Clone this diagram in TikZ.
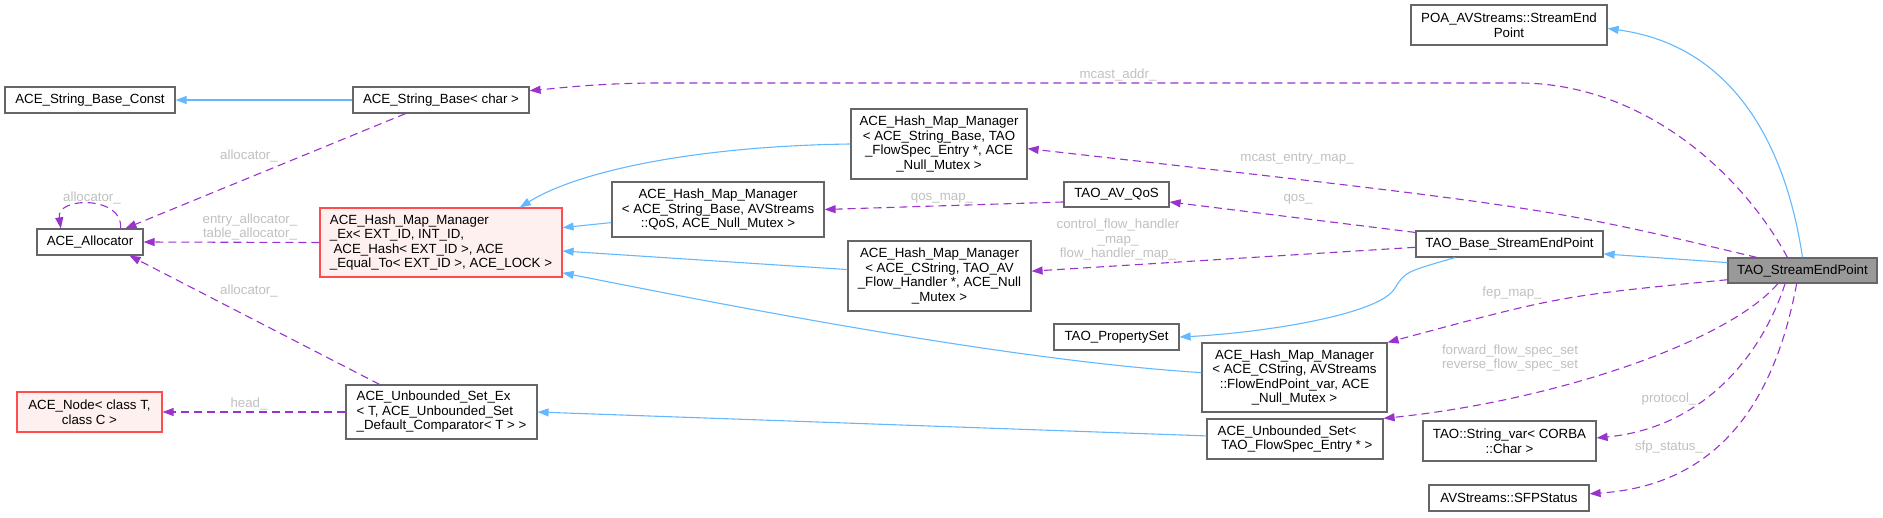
\documentclass[tikz,border=0pt]{standalone}
\usepackage{fontspec}
\setmainfont{Liberation Sans}
\usepackage{tikz}
\usetikzlibrary{arrows.meta}

\definecolor{inhblue}{HTML}{63B8FF}
\definecolor{usepurple}{HTML}{9A32CD}
\definecolor{boxgray}{HTML}{666666}
\definecolor{mainfill}{HTML}{999999}
\definecolor{lblgray}{HTML}{C0C0C0}
\definecolor{truncred}{HTML}{FF4D4D}
\definecolor{truncfill}{HTML}{FFF0F0}

\begin{document}
\begin{tikzpicture}[x=1pt,y=-1pt,>={Triangle[length=11pt,width=8pt]},
                    font=\fontsize{13.3}{14.5}\selectfont]
  \tikzstyle{cls}=[draw=boxgray,line width=1.2pt,fill=white,inner sep=0pt,align=center]
  \tikzstyle{trunc}=[cls,draw=truncred,fill=truncfill]
  \tikzstyle{main}=[cls,fill=mainfill]
  \tikzstyle{inh}=[->,draw=inhblue,line width=1.1pt]
  \tikzstyle{use}=[->,draw=usepurple,line width=1.1pt,dash pattern=on 8pt off 5pt]
  \tikzstyle{lbl}=[text=lblgray,align=center,inner sep=0pt]

  \useasboundingbox (0,0) rectangle (1883,517);

  \node[cls,minimum width=170pt,minimum height=26pt]  (strconst) at (90,100)   {ACE\_String\_Base\_Const};
  \node[cls,minimum width=176pt,minimum height=26pt]  (strbase)  at (441,100)  {ACE\_String\_Base< char >};
  \node[cls,minimum width=106pt,minimum height=26pt]  (alloc)    at (90,242)   {ACE\_Allocator};
  \node[trunc,align=left,minimum width=242pt,minimum height=69pt] (hmmex) at (441,242.5)
       {ACE\_Hash\_Map\_Manager\\\_Ex< EXT\_ID, INT\_ID,\\~ACE\_Hash< EXT\_ID >, ACE\\\_Equal\_To< EXT\_ID >, ACE\_LOCK >};
  \node[trunc,minimum width=145pt,minimum height=40pt] (nodecls) at (89.5,412) {ACE\_Node< class T,\\class C >};
  \node[cls,align=left,minimum width=191pt,minimum height=54pt] (setex) at (441.5,412)
       {ACE\_Unbounded\_Set\_Ex\\< T, ACE\_Unbounded\_Set\\\_Default\_Comparator< T > >};
  \node[cls,minimum width=176pt,minimum height=70pt]  (hmmfs)    at (939,144)
       {ACE\_Hash\_Map\_Manager\\< ACE\_String\_Base, TAO\\\_FlowSpec\_Entry *, ACE\\\_Null\_Mutex >};
  \node[cls,minimum width=212pt,minimum height=55pt]  (hmmqos)   at (718,209.5)
       {ACE\_Hash\_Map\_Manager\\< ACE\_String\_Base, AVStreams\\::QoS, ACE\_Null\_Mutex >};
  \node[cls,minimum width=105pt,minimum height=25pt]  (avqos)    at (1116.5,194.5) {TAO\_AV\_QoS};
  \node[cls,minimum width=183pt,minimum height=70pt]  (hmmfh)    at (939.5,276)
       {ACE\_Hash\_Map\_Manager\\< ACE\_CString, TAO\_AV\\\_Flow\_Handler *, ACE\_Null\\\_Mutex >};
  \node[cls,minimum width=125pt,minimum height=26pt]  (propset)  at (1116.5,337) {TAO\_PropertySet};
  \node[cls,minimum width=185pt,minimum height=69pt]  (hmmfep)   at (1294.5,377.5)
       {ACE\_Hash\_Map\_Manager\\< ACE\_CString, AVStreams\\::FlowEndPoint\_var, ACE\\\_Null\_Mutex >};
  \node[cls,align=left,minimum width=176pt,minimum height=40pt] (uset) at (1295,439)
       {ACE\_Unbounded\_Set<\\~TAO\_FlowSpec\_Entry * >};
  \node[cls,minimum width=196pt,minimum height=40pt]  (poa)      at (1509,25)  {POA\_AVStreams::StreamEnd\\Point};
  \node[cls,minimum width=187pt,minimum height=26pt]  (basesep)  at (1509.5,244) {TAO\_Base\_StreamEndPoint};
  \node[main,minimum width=149pt,minimum height=25pt] (sep)      at (1802.5,270.5) {TAO\_StreamEndPoint};
  \node[cls,minimum width=173pt,minimum height=40pt]  (strvar)   at (1509.5,441) {TAO::String\_var< CORBA\\::Char >};
  \node[cls,minimum width=160pt,minimum height=26pt]  (sfp)      at (1509,498) {AVStreams::SFPStatus};

  % base classes
  \draw[inh] (strbase) -- (strconst);
  \draw[inh] (hmmfs.west) .. controls (700,146) and (580,170) .. (hmmex.24);
  \draw[inh] (hmmqos.187) -- (hmmex.7);
  \draw[inh] (hmmfh.176) -- (hmmex.-4);
  \draw[inh] (hmmfep.177) .. controls (1000,360) and (700,300) .. (hmmex.-14);
  \draw[inh] (uset.178) -- (setex.east);
  \draw[inh] (basesep.194) .. controls (1405,272) .. (1395,288)
             .. controls (1380,315) and (1260,333) .. (propset.east);
  \draw[inh] (sep.174) -- (basesep.-6);
  \draw[inh] (sep.north) .. controls (1785,140) and (1730,45) .. (poa.-2);

  % members
  \draw[use] (strbase.201) -- (alloc.21) node[lbl] at (249,156) {allocator\_};
  \draw[use] (alloc.24) .. controls (124,196) and (56,196) .. (alloc.155)
             node[lbl] at (92,198) {allocator\_};
  \draw[use] (hmmex.west) -- (alloc.east)
             node[lbl] at (250,227) {entry\_allocator\_\\table\_allocator\_};
  \draw[use] (setex.156) -- (alloc.-19) node[lbl] at (249,291) {allocator\_};
  \draw[use] (setex.west) -- (nodecls.east) node[lbl] at (249,404) {head\_};
  \draw[use] (sep.139) .. controls (1740,170) and (1640,83) .. (1519,83) -- (660,83)
             .. controls (600,83) and (560,88) .. (strbase.6)
             node[lbl] at (1118,75) {mcast\_addr\_};
  \draw[use] (sep.164) .. controls (1545,207) .. (hmmfs.-3)
             node[lbl] at (1297,159) {mcast\_entry\_map\_};
  \draw[use] (basesep.173) -- (avqos.-8) node[lbl] at (1298,199) {qos\_};
  \draw[use] (avqos.188) -- (hmmqos.east) node[lbl] at (942,198) {qos\_map\_};
  \draw[use] (basesep.182) -- (hmmfh.3)
             node[lbl] at (1118,240) {control\_flow\_handler\\\_map\_\\flow\_handler\_map\_};
  \draw[use] (sep.187) .. controls (1560,296) .. (hmmfep.north east)
             node[lbl] at (1512,293) {fep\_map\_};
  \draw[use] (sep.208) .. controls (1730,340) and (1560,400) .. (uset.north east)
             node[lbl] at (1510,358) {forward\_flow\_spec\_set\\reverse\_flow\_spec\_set};
  \draw[use] (sep.217) .. controls (1760,360) and (1700,428) .. (strvar.2)
             node[lbl] at (1669,399) {protocol\_};
  \draw[use] (sep.246) .. controls (1775,400) and (1720,485) .. (sfp.3)
             node[lbl] at (1669,447) {sfp\_status\_};

\end{tikzpicture}
\end{document}
